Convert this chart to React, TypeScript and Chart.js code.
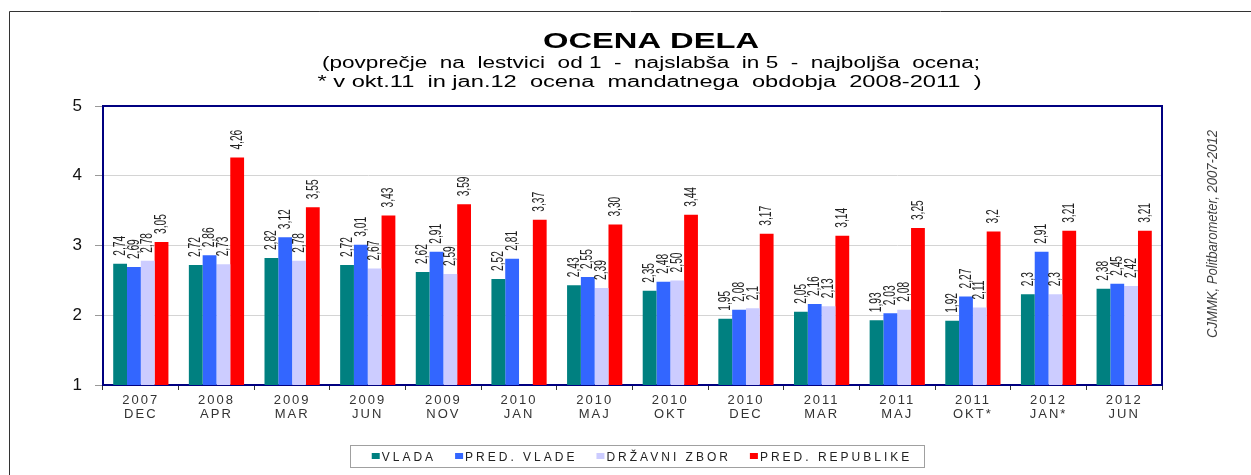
import React, { useEffect, useRef } from "react";
import { Chart, registerables } from "chart.js";

Chart.register(...registerables);

const categories = [
  ["2007", "DEC"], ["2008", "APR"], ["2009", "MAR"], ["2009", "JUN"], ["2009", "NOV"],
  ["2010", "JAN"], ["2010", "MAJ"], ["2010", "OKT"], ["2010", "DEC"], ["2011", "MAR"],
  ["2011", "MAJ"], ["2011", "OKT*"], ["2012", "JAN*"], ["2012", "JUN"],
];
const vlada = ["2,74", "2,72", "2,82", "2,72", "2,62", "2,52", "2,43", "2,35", "1,95", "2,05", "1,93", "1,92", "2,3", "2,38"];
const predVlade = ["2,69", "2,86", "3,12", "3,01", "2,91", "2,81", "2,55", "2,48", "2,08", "2,16", "2,03", "2,27", "2,91", "2,45"];
const drzavniZbor = ["2,78", "2,73", "2,78", "2,67", "2,59", null, "2,39", "2,50", "2,1", "2,13", "2,08", "2,11", "2,3", "2,42"];
const predRepublike = ["3,05", "4,26", "3,55", "3,43", "3,59", "3,37", "3,30", "3,44", "3,17", "3,14", "3,25", "3,2", "3,21", "3,21"];
const seriesNames = ["VLADA", "PRED. VLADE", "DRŽAVNI ZBOR", "PRED. REPUBLIKE"];
const seriesColors = ["#008080", "#3366FF", "#CCCCFF", "#FF0000"];
const seriesLabels = [vlada, predVlade, drzavniZbor, predRepublike];
const yMin = 1;
const yMax = 5;
const yStep = 1;

const titleText = "OCENA DELA";
const subtitle1 = "(povprečje  na  lestvici  od 1  -  najslabša  in 5  -  najboljša  ocena;";
const subtitle2 = "* v okt.11  in jan.12  ocena  mandatnega  obdobja  2008-2011  )";
const sourceText = "CJMMK, Politbarometer, 2007-2012";

const FONT = '"Liberation Sans", Arial, sans-serif';

const toNum = (s: string | null) => (s == null ? null : parseFloat(s.replace(",", ".")));

function fitText(ctx: CanvasRenderingContext2D, text: string, x: number, y: number, width: number, font: string) {
  ctx.save();
  ctx.font = font;
  (ctx as any).letterSpacing = "0px";
  const w = ctx.measureText(text).width;
  ctx.translate(x, y);
  ctx.scale(width / w, 1);
  ctx.textAlign = "center";
  ctx.fillText(text, 0, 0);
  ctx.restore();
}

const decorPlugin = {
  id: "decor",
  beforeDraw(chart: any) {
    const ctx = chart.ctx as CanvasRenderingContext2D;
    ctx.save();
    ctx.fillStyle = "#ffffff";
    ctx.fillRect(0, 0, chart.width, chart.height);
    ctx.restore();
    (ctx as any).letterSpacing = "2px";
  },
  afterDatasetsDraw(chart: any) {
    const ctx = chart.ctx as CanvasRenderingContext2D;
    const { left, right, top, bottom } = chart.chartArea;
    // data labels
    chart.data.datasets.forEach((ds: any, di: number) => {
      const meta = chart.getDatasetMeta(di);
      meta.data.forEach((el: any, i: number) => {
        const txt = seriesLabels[di][i];
        if (txt == null) return;
        ctx.save();
        (ctx as any).letterSpacing = "0px";
        ctx.font = `17px ${FONT}`;
        ctx.fillStyle = "#222";
        ctx.translate(el.x, el.y - 8);
        ctx.rotate(-Math.PI / 2);
        ctx.scale(0.6, 1);
        ctx.textAlign = "left";
        ctx.textBaseline = "middle";
        ctx.fillText(txt, 0, 0);
        ctx.restore();
      });
    });
    // top & right plot border
    ctx.save();
    ctx.strokeStyle = "#000080";
    ctx.lineWidth = 2;
    ctx.beginPath();
    ctx.moveTo(left, top);
    ctx.lineTo(right, top);
    ctx.lineTo(right, bottom);
    ctx.stroke();
    ctx.restore();
  },
  afterDraw(chart: any) {
    const ctx = chart.ctx as CanvasRenderingContext2D;
    ctx.save();
    (ctx as any).letterSpacing = "0px";
    // outer frame
    ctx.strokeStyle = "#333";
    ctx.lineWidth = 1;
    ctx.beginPath();
    ctx.moveTo(9.5, chart.height);
    ctx.lineTo(9.5, 11.5);
    ctx.lineTo(chart.width, 11.5);
    ctx.stroke();
    // titles
    ctx.fillStyle = "#000";
    ctx.textBaseline = "alphabetic";
    fitText(ctx, titleText, 651, 48, 216, `bold 22px ${FONT}`);
    fitText(ctx, subtitle1, 651, 68, 658, `16px ${FONT}`);
    fitText(ctx, subtitle2, 649.5, 87, 664, `16px ${FONT}`);
    // source text
    ctx.save();
    ctx.fillStyle = "#404040";
    ctx.translate(1213, 234);
    ctx.rotate(-Math.PI / 2);
    ctx.textBaseline = "middle";
    fitText(ctx, sourceText, 0, 0, 208, `italic 14px ${FONT}`);
    ctx.restore();
    // legend
    ctx.strokeStyle = "#a0a0a0";
    ctx.lineWidth = 1;
    ctx.strokeRect(350.5, 445.5, 574, 22);
    ctx.font = `12px ${FONT}`;
    (ctx as any).letterSpacing = "3px";
    const gap = 19;
    const widths = seriesNames.map((n) => ctx.measureText(n).width);
    const total = widths.reduce((a, b) => a + b + 10, 0) + gap * (seriesNames.length - 1) - 3;
    let x = 640.5 - total / 2;
    seriesNames.forEach((n, i) => {
      ctx.fillStyle = seriesColors[i];
      ctx.fillRect(x, 453, 8, 6);
      ctx.fillStyle = "#222";
      ctx.textAlign = "left";
      ctx.textBaseline = "alphabetic";
      ctx.fillText(n, x + 10, 460.5);
      x += 10 + widths[i] + gap;
    });
    ctx.restore();
  },
};

export default function App() {
  const ref = useRef<HTMLCanvasElement | null>(null);
  useEffect(() => {
    if (!ref.current) return;
    const chart = new Chart(ref.current, {
      type: "bar",
      data: {
        labels: categories,
        datasets: seriesNames.map((name, i) => ({
          label: name,
          data: seriesLabels[i].map(toNum),
          backgroundColor: seriesColors[i],
          borderWidth: 0,
          barPercentage: 1,
          categoryPercentage: 0.73,
        })),
      },
      options: {
        animation: false,
        responsive: false,
        devicePixelRatio: 1,
        layout: { padding: { left: 40, top: 106, right: 89, bottom: 50 } },
        plugins: {
          legend: { display: false },
          title: { display: false },
          tooltip: { enabled: false },
        },
        scales: {
          x: {
            offset: true,
            afterFit: (s: any) => { s.height = 40; },
            grid: { offset: true, drawOnChartArea: false, drawTicks: true, tickLength: 5, tickColor: "#333" },
            border: { color: "#000080", width: 2 },
            ticks: {
              autoSkip: false,
              maxRotation: 0,
              minRotation: 0,
              padding: 3,
              color: "#333",
              font: { family: FONT, size: 13, lineHeight: 1.1 },
            },
          },
          y: {
            min: yMin,
            max: yMax,
            afterFit: (s: any) => { s.width = 63; },
            grid: {
              color: (c: any) => (c.tick && (c.tick.value === yMin || c.tick.value === yMax) ? "rgba(0,0,0,0)" : "#d4d4d4"),
              tickColor: "#999",
              tickLength: 8,
              lineWidth: 1,
            },
            border: { color: "#000080", width: 2 },
            ticks: {
              stepSize: yStep,
              padding: 11,
              color: "#111",
              font: { family: FONT, size: 17 },
            },
          },
        },
      },
      plugins: [decorPlugin],
    });
    return () => chart.destroy();
  }, []);
  return (
    <div style={{ position: "absolute", left: 0, top: 0, width: 1251, height: 475 }}>
      <canvas ref={ref} width={1251} height={475} style={{ display: "block" }} />
    </div>
  );
}
